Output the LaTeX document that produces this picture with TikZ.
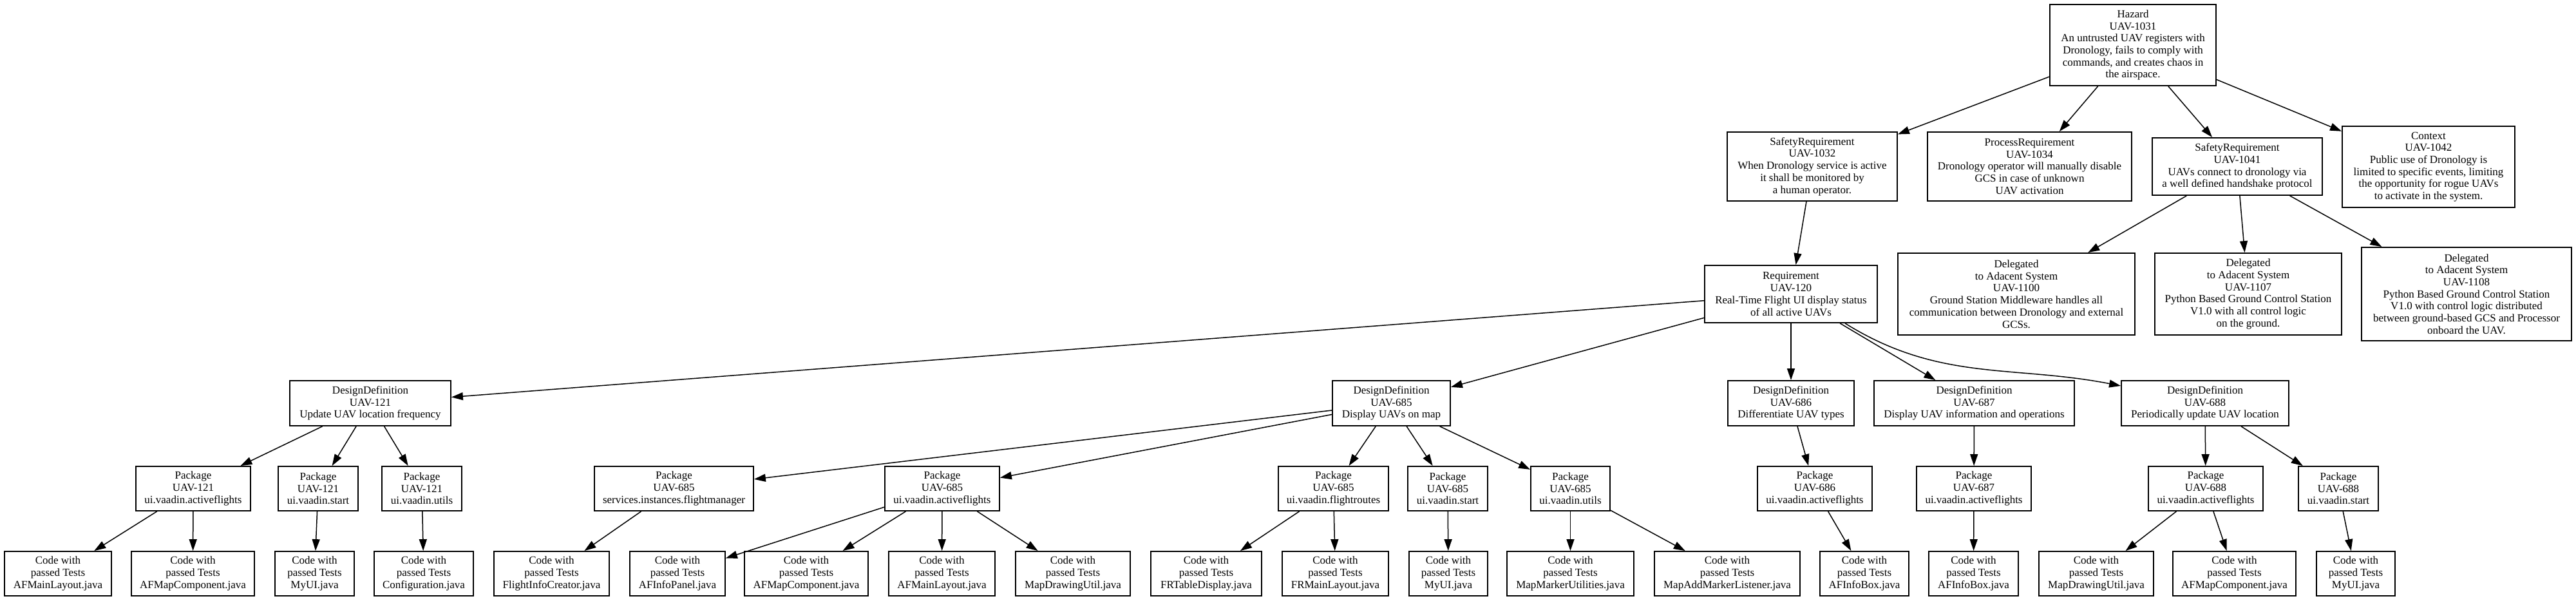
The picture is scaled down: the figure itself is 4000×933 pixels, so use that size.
\documentclass[tikz,border=0pt]{standalone}
\usepackage{fontspec}
\setmainfont{Liberation Serif}
\usetikzlibrary{arrows.meta}
\begin{document}
\begin{tikzpicture}[x=1pt,y=-1pt,
  box/.style={draw, line width=1.8pt, rectangle, inner sep=0pt, align=center, font=\fontsize{17}{18.7}\selectfont},
  wh/.style 2 args={minimum width=#1pt, minimum height=#2pt},
  edge/.style={line width=1.5pt, -{Triangle[length=18pt,width=12pt]}}]
\useasboundingbox (0,0) rectangle (4000,933);
% level 0
\node[box, wh={258}{126}] (haz) at (3312,70) {Hazard\\UAV-1031\\An untrusted UAV registers with\\Dronology, fails to comply with\\commands, and creates chaos in\\the airspace.};
% level 1
\node[box, wh={264}{107}] (sr1032) at (2814,258.5) {SafetyRequirement\\UAV-1032\\When Dronology service is active\\it shall be monitored by\\a human operator.};
\node[box, wh={317}{107}] (pr1034) at (3151.5,258.5) {ProcessRequirement\\UAV-1034\\Dronology operator will manually disable\\GCS in case of unknown\\UAV activation};
\node[box, wh={264}{89}] (sr1041) at (3474,258.5) {SafetyRequirement\\UAV-1041\\UAVs connect to dronology via\\a well defined handshake protocol};
\node[box, wh={268}{126}] (ctx1042) at (3771,259) {Context\\UAV-1042\\Public use of Dronology is\\limited to specific events, limiting\\the opportunity for rogue UAVs\\to activate in the system.};
% level 2
\node[box, wh={268}{89}] (req120) at (2781,456.5) {Requirement\\UAV-120\\Real-Time Flight UI display status\\of all active UAVs};
\node[box, wh={368}{127}] (del1100) at (3131,456.5) {Delegated\\to Adacent System\\UAV-1100\\Ground Station Middleware handles all\\communication between Dronology and external\\GCSs.};
\node[box, wh={290}{127}] (del1107) at (3491,456.5) {Delegated\\to Adacent System\\UAV-1107\\Python Based Ground Control Station\\V1.0 with all control logic\\on the ground.};
\node[box, wh={326}{145}] (del1108) at (3830,456.5) {Delegated\\to Adacent System\\UAV-1108\\Python Based Ground Control Station\\V1.0 with control logic distributed\\between ground-based GCS and Processor\\onboard the UAV.};
% level 3
\node[box, wh={250}{70}] (dd121) at (575,626) {DesignDefinition\\UAV-121\\Update UAV location frequency};
\node[box, wh={183}{70}] (dd685) at (2160.5,626) {DesignDefinition\\UAV-685\\Display UAVs on map};
\node[box, wh={196}{70}] (dd686) at (2781,626) {DesignDefinition\\UAV-686\\Differentiate UAV types};
\node[box, wh={311}{70}] (dd687) at (3065.5,626) {DesignDefinition\\UAV-687\\Display UAV information and operations};
\node[box, wh={260}{70}] (dd688) at (3424,626) {DesignDefinition\\UAV-688\\Periodically update UAV location};
% level 4
\node[box, wh={178}{69}] (p121a) at (300,758.5) {Package\\UAV-121\\ui.vaadin.activeflights};
\node[box, wh={124}{69}] (p121s) at (494,758.5) {Package\\UAV-121\\ui.vaadin.start};
\node[box, wh={124}{69}] (p121u) at (655,758.5) {Package\\UAV-121\\ui.vaadin.utils};
\node[box, wh={247}{69}] (p685sv) at (1046.5,758.5) {Package\\UAV-685\\services.instances.flightmanager};
\node[box, wh={178}{69}] (p685a) at (1463,758.5) {Package\\UAV-685\\ui.vaadin.activeflights};
\node[box, wh={171}{69}] (p685f) at (2070.5,758.5) {Package\\UAV-685\\ui.vaadin.flightroutes};
\node[box, wh={124}{69}] (p685s) at (2248,758.5) {Package\\UAV-685\\ui.vaadin.start};
\node[box, wh={123}{69}] (p685u) at (2438.5,758.5) {Package\\UAV-685\\ui.vaadin.utils};
\node[box, wh={178}{69}] (p686) at (2818,758.5) {Package\\UAV-686\\ui.vaadin.activeflights};
\node[box, wh={178}{69}] (p687) at (3065,758.5) {Package\\UAV-687\\ui.vaadin.activeflights};
\node[box, wh={178}{69}] (p688a) at (3425,758.5) {Package\\UAV-688\\ui.vaadin.activeflights};
\node[box, wh={124}{69}] (p688s) at (3631,758.5) {Package\\UAV-688\\ui.vaadin.start};
% level 5
\node[box, wh={166}{69}] (c1) at (90,890.5) {Code with\\passed Tests\\AFMainLayout.java};
\node[box, wh={191}{69}] (c2) at (299.5,890.5) {Code with\\passed Tests\\AFMapComponent.java};
\node[box, wh={123}{69}] (c3) at (488.5,890.5) {Code with\\passed Tests\\MyUI.java};
\node[box, wh={154}{69}] (c4) at (658,890.5) {Code with\\passed Tests\\Configuration.java};
\node[box, wh={179}{69}] (c5) at (856.5,890.5) {Code with\\passed Tests\\FlightInfoCreator.java};
\node[box, wh={148}{69}] (c6) at (1052,890.5) {Code with\\passed Tests\\AFInfoPanel.java};
\node[box, wh={192}{69}] (c7) at (1252,890.5) {Code with\\passed Tests\\AFMapComponent.java};
\node[box, wh={165}{69}] (c8) at (1462.5,890.5) {Code with\\passed Tests\\AFMainLayout.java};
\node[box, wh={178}{69}] (c9) at (1666,890.5) {Code with\\passed Tests\\MapDrawingUtil.java};
\node[box, wh={172}{69}] (c10) at (1873,890.5) {Code with\\passed Tests\\FRTableDisplay.java};
\node[box, wh={165}{69}] (c11) at (2073.5,890.5) {Code with\\passed Tests\\FRMainLayout.java};
\node[box, wh={122}{69}] (c12) at (2249,890.5) {Code with\\passed Tests\\MyUI.java};
\node[box, wh={197}{69}] (c13) at (2438.5,890.5) {Code with\\passed Tests\\MapMarkerUtilities.java};
\node[box, wh={226}{69}] (c14) at (2682,890.5) {Code with\\passed Tests\\MapAddMarkerListener.java};
\node[box, wh={138}{69}] (c15) at (2895,890.5) {Code with\\passed Tests\\AFInfoBox.java};
\node[box, wh={139}{69}] (c16) at (3064.5,890.5) {Code with\\passed Tests\\AFInfoBox.java};
\node[box, wh={178}{69}] (c17) at (3255,890.5) {Code with\\passed Tests\\MapDrawingUtil.java};
\node[box, wh={191}{69}] (c18) at (3469.5,890.5) {Code with\\passed Tests\\AFMapComponent.java};
\node[box, wh={122}{69}] (c19) at (3658,890.5) {Code with\\passed Tests\\MyUI.java};
% edges
\draw[edge] (haz) -- (sr1032);
\draw[edge] (haz) -- (pr1034);
\draw[edge] (haz) -- (sr1041);
\draw[edge] (haz) -- (ctx1042);
\draw[edge] (sr1032) -- (req120);
\draw[edge] (sr1041) -- (del1100);
\draw[edge] (sr1041) -- (del1107);
\draw[edge] (sr1041) -- (del1108);
\draw[edge] (req120) -- (dd121);
\draw[edge] (req120) -- (dd685);
\draw[edge] (req120) -- (dd686);
\draw[edge] (req120) -- (dd687);
\draw[edge] ([xshift=84pt]req120.south) to[out=-32,in=169] ([yshift=27pt]dd688.west);
\draw[edge] (dd121) -- (p121a);
\draw[edge] (dd121) -- (p121s);
\draw[edge] (dd121) -- (p121u);
\draw[edge] (p121a) -- (c1);
\draw[edge] (p121a) -- (c2);
\draw[edge] (p121s) -- (c3);
\draw[edge] (p121u) -- (c4);
\draw[edge] (dd685) -- (p685sv);
\draw[edge] (dd685) -- (p685a);
\draw[edge] (dd685) -- (p685f);
\draw[edge] (dd685) -- (p685s);
\draw[edge] (dd685) -- (p685u);
\draw[edge] (p685sv) -- (c5);
\draw[edge] (p685a) -- (c6);
\draw[edge] (p685a) -- (c7);
\draw[edge] (p685a) -- (c8);
\draw[edge] (p685a) -- (c9);
\draw[edge] (p685f) -- (c10);
\draw[edge] (p685f) -- (c11);
\draw[edge] (p685s) -- (c12);
\draw[edge] (p685u) -- (c13);
\draw[edge] (p685u) -- (c14);
\draw[edge] (dd686) -- (p686);
\draw[edge] (p686) -- (c15);
\draw[edge] (dd687) -- (p687);
\draw[edge] (p687) -- (c16);
\draw[edge] (dd688) -- (p688a);
\draw[edge] (dd688) -- (p688s);
\draw[edge] (p688a) -- (c17);
\draw[edge] (p688a) -- (c18);
\draw[edge] (p688s) -- (c19);
\end{tikzpicture}
\end{document}
